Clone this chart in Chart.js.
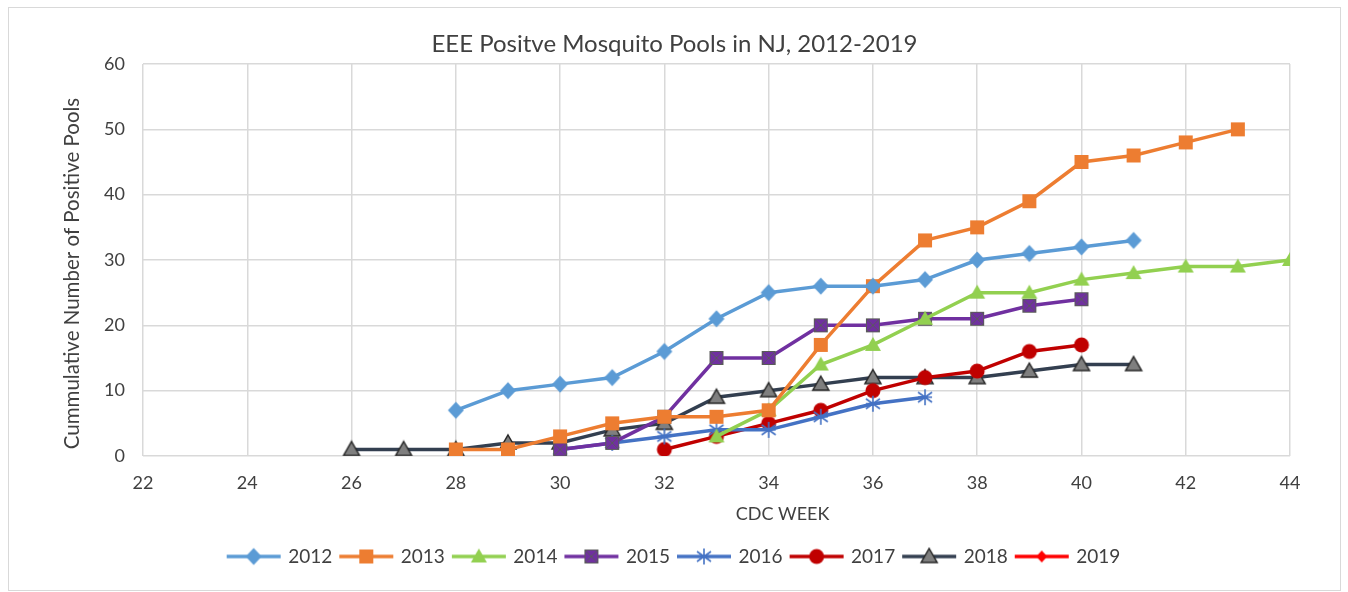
<!DOCTYPE html>
<html><head><meta charset="utf-8">
<script src="https://cdn.jsdelivr.net/npm/chart.js@4/dist/chart.umd.min.js"></script>
<style>
body{margin:0;background:#fff}
#w{position:absolute;left:8px;top:7px;width:1331px;height:582px;border:1px solid #d9d9d9;box-sizing:content-box}
</style></head>
<body><div id="w"><canvas id="c"></canvas></div>
<script>
const seriesNames = ['2012','2013','2014','2015','2016','2017','2018','2019'];
const startWeeks = [28, 28, 33, 30, 30, 32, 26, 0];
const v2012 = [7,10,11,12,16,21,25,26,26,27,30,31,32,33];
const v2013 = [1,1,3,5,6,6,7,17,26,33,35,39,45,46,48,50];
const v2014 = [3,7,14,17,21,25,25,27,28,29,29,30];
const v2015 = [1,2,6,15,15,20,20,21,21,23,24];
const v2016 = [1,2,3,4,4,6,8,9];
const v2017 = [1,3,5,7,10,12,13,16,17];
const v2018 = [1,1,1,2,2,4,5,9,10,11,12,12,12,13,14,14];
const v2019 = [];
const xTicks = [22,24,26,28,30,32,34,36,38,40,42,44];
const yTicks = [0,10,20,30,40,50,60];
const xTitle = 'CDC WEEK';
const yTitle = 'Cummulative Number of Positive Pools';
const chartTitle = 'EEE Positve Mosquito Pools in NJ, 2012-2019';

const FONT = 'Lato, "Open Sans", sans-serif';

function pts(start, vals){ return vals.map((v,i)=>({x:start+i, y:v})); }

function mk(w,h,draw){ const c=document.createElement('canvas'); c.width=w; c.height=h; const g=c.getContext('2d'); draw(g,w/2,h/2); return c; }

const styles = [
 {line:'#5B9BD5', marker:(g,x,y)=>{g.fillStyle='#5B9BD5';g.beginPath();g.moveTo(x,y-8.5);g.lineTo(x+8,y);g.lineTo(x,y+8.5);g.lineTo(x-8,y);g.closePath();g.fill();}},
 {line:'#ED7D31', marker:(g,x,y)=>{g.fillStyle='#ED7D31';g.fillRect(x-7,y-7,14,14);}},
 {line:'#92D050', marker:(g,x,y)=>{g.fillStyle='#92D050';g.beginPath();g.moveTo(x,y-8);g.lineTo(x+8,y+6);g.lineTo(x-8,y+6);g.closePath();g.fill();}},
 {line:'#7030A0', marker:(g,x,y)=>{g.fillStyle='#7030A0';g.fillRect(x-7,y-7,14,14);g.strokeStyle='#5a5a5a';g.lineWidth=1;g.strokeRect(x-6.5,y-6.5,13,13);g.beginPath();g.moveTo(x-6,y-6);g.lineTo(x+6,y+6);g.moveTo(x+6,y-6);g.lineTo(x-6,y+6);g.stroke();}},
 {line:'#4472C4', marker:(g,x,y)=>{g.strokeStyle='#4472C4';g.lineWidth=1.6;g.beginPath();g.moveTo(x,y-8);g.lineTo(x,y+8);g.moveTo(x-7,y-5);g.lineTo(x+7,y+5);g.moveTo(x+7,y-5);g.lineTo(x-7,y+5);g.moveTo(x-7,y);g.lineTo(x+7,y);g.stroke();}},
 {line:'#C00000', marker:(g,x,y)=>{g.fillStyle='#C00000';g.beginPath();g.arc(x,y,7.5,0,Math.PI*2);g.fill();}},
 {line:'#333F50', marker:(g,x,y)=>{g.fillStyle='#7F7F7F';g.strokeStyle='#262626';g.lineWidth=1.5;g.beginPath();g.moveTo(x,y-8);g.lineTo(x+8,y+6);g.lineTo(x-8,y+6);g.closePath();g.fill();g.stroke();}},
 {line:'#FF0000', marker:(g,x,y)=>{g.fillStyle='#FF0000';g.beginPath();g.moveTo(x,y-6);g.lineTo(x+5.5,y);g.lineTo(x,y+6);g.lineTo(x-5.5,y);g.closePath();g.fill();}}
];
const values = [v2012,v2013,v2014,v2015,v2016,v2017,v2018,v2019];

const pointImgs = styles.map(s=>mk(20,20,s.marker));
const legendImgs = styles.map(s=>mk(56,20,(g,x,y)=>{g.strokeStyle=s.line;g.lineWidth=3.5;g.beginPath();g.moveTo(1,y);g.lineTo(55,y);g.stroke();s.marker(g,x,y);}));

const datasets = seriesNames.map((n,i)=>({
  label:n,
  data: pts(startWeeks[i], values[i]),
  borderColor: styles[i].line,
  backgroundColor: styles[i].line,
  borderWidth: 3.5,
  pointStyle: pointImgs[i],
  pointRadius: 8,
  tension: 0,
  fill: false
}));

const axisTitles = {
  id:'axisTitles',
  afterDraw(chart){
    const {ctx, chartArea:a} = chart;
    ctx.save();
    ctx.fillStyle='#404040'; ctx.textAlign='center'; ctx.textBaseline='middle';
    ctx.font='18px '+FONT;
    ctx.fillText(xTitle, a.left + (a.right-a.left)*0.5576, a.bottom + 58);
    ctx.translate(63, a.top + (a.bottom-a.top)*0.5345);
    ctx.rotate(-Math.PI/2);
    ctx.font='20.5px '+FONT;
    ctx.fillText(yTitle, 0, 0);
    ctx.restore();
  }
};

new Chart(document.getElementById('c'), {
  type:'line',
  data:{datasets},
  plugins:[axisTitles],
  options:{
    responsive:true, maintainAspectRatio:false, animation:false,
    layout:{padding:{left:50,right:50,top:0,bottom:14}},
    plugins:{
      title:{display:true,text:chartTitle,color:'#404040',font:{family:FONT,size:24,weight:'normal'},padding:{top:21.6,bottom:5.6}},
      legend:{position:'bottom',labels:{usePointStyle:true,pointStyleWidth:50,boxHeight:18,padding:9,color:'#404040',font:{family:FONT,size:19},
        generateLabels:(chart)=>chart.data.datasets.map((d,i)=>({text:d.label,fillStyle:d.borderColor,strokeStyle:d.borderColor,lineWidth:0,pointStyle:legendImgs[i],hidden:false,datasetIndex:i,fontColor:'#404040'}))}},
      tooltip:{enabled:false}
    },
    scales:{
      x:{type:'linear',min:22,max:44,
        afterBuildTicks:(s)=>{s.ticks=xTicks.map(v=>({value:v}));},
        afterFit:(s)=>{s.height=82;},
        ticks:{color:'#404040',font:{family:FONT,size:18},padding:16},
        grid:{color:'#d9d9d9',lineWidth:1.5,drawTicks:false},
        border:{display:false},
        title:{display:false}},
      y:{min:0,max:60,
        afterBuildTicks:(s)=>{s.ticks=yTicks.map(v=>({value:v}));},
        afterFit:(s)=>{s.width=84;},
        ticks:{color:'#404040',font:{family:FONT,size:18},padding:18},
        grid:{color:'#d9d9d9',lineWidth:1.5,drawTicks:false},
        border:{display:false},
        title:{display:false}}
    }
  }
});
</script></body></html>
